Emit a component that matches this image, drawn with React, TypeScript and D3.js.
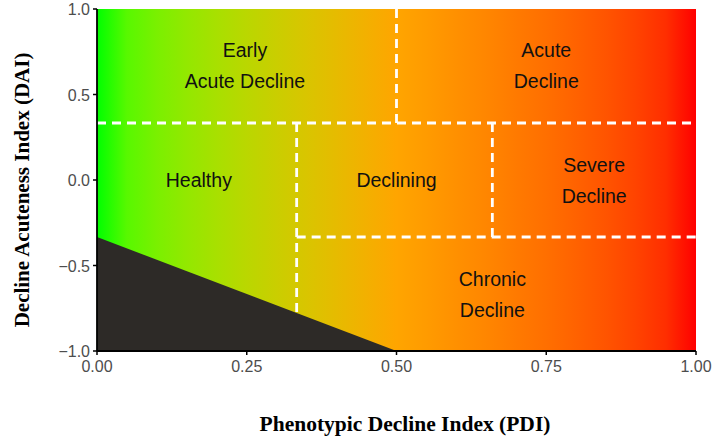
import React from "react";
import * as d3 from "d3";

// Axis domains and ticks
const xTicks = [0, 0.25, 0.5, 0.75, 1];
const yTicks = [-1, -0.5, 0, 0.5, 1];
const xTickLabels = ["0.00", "0.25", "0.50", "0.75", "1.00"];
const yTickLabels = ["\u22121.0", "\u22120.5", "0.0", "0.5", "1.0"];

// Colour ramp along PDI
const rampStops = [0, 0.5, 1];
const rampColors = ["#00ff00", "#ffa500", "#ff0000"];

// Region boundaries (PDI, DAI)
const third = 1 / 3;
const boundaries: { x1: number; y1: number; x2: number; y2: number }[] = [
  { x1: 0, y1: third, x2: 1, y2: third },
  { x1: 0.5, y1: third, x2: 0.5, y2: 1 },
  { x1: third, y1: -third, x2: 1, y2: -third },
  { x1: third, y1: third, x2: third, y2: -1 / 3 - (4 / 3) * third },
  { x1: 0.66, y1: third, x2: 0.66, y2: -third },
];

// Excluded corner: below the line from (0, -1/3) to (0.5, -1)
const excluded: [number, number][] = [
  [0, -third],
  [0.5, -1],
  [0, -1],
];

// Region labels
const regionLabels: { x: number; y: number; lines: string[] }[] = [
  { x: 0.247, y: 0.67, lines: ["Early", "Acute Decline"] },
  { x: 0.75, y: 0.67, lines: ["Acute", "Decline"] },
  { x: 0.17, y: 0.0, lines: ["Healthy"] },
  { x: 0.5, y: 0.0, lines: ["Declining"] },
  { x: 0.83, y: 0.0, lines: ["Severe", "Decline"] },
  { x: 0.66, y: -0.67, lines: ["Chronic", "Decline"] },
];

const W = 720;
const H = 447;
const left = 97;
const right = 696;
const top = 9;
const bottom = 351;

export default function App() {
  const x = d3.scaleLinear().domain([0, 1]).range([left, right]);
  const y = d3.scaleLinear().domain([-1, 1]).range([bottom, top]);
  const ramp = d3
    .scaleLinear<string>()
    .domain(rampStops)
    .range(rampColors)
    .interpolate(d3.interpolateLab);
  const gradStops = d3.range(0, 1.0001, 0.05);
  const area = d3
    .line<[number, number]>()
    .x((d) => x(d[0]))
    .y((d) => y(d[1]));
  const lineH = 31;

  return (
    <svg
      width={W}
      height={H}
      style={{ position: "absolute", left: 0, top: 0, background: "#fff" }}
    >
      <defs>
        <linearGradient id="pdiRamp" x1="0" x2="1" y1="0" y2="0">
          {gradStops.map((t) => (
            <stop key={t} offset={t} stopColor={ramp(t)} />
          ))}
        </linearGradient>
      </defs>
      <rect
        x={x(0)}
        y={y(1)}
        width={x(1) - x(0)}
        height={y(-1) - y(1)}
        fill="url(#pdiRamp)"
      />
      <path d={area(excluded) + "Z"} fill="#2d2a27" />
      {boundaries.map((b, i) => (
        <line
          key={i}
          x1={x(b.x1)}
          y1={y(b.y1)}
          x2={x(b.x2)}
          y2={y(b.y2)}
          stroke="#fff"
          strokeWidth={2.8}
          strokeDasharray="9 6"
        />
      ))}
      {regionLabels.map((r, i) => (
        <text
          key={i}
          x={x(r.x)}
          y={y(r.y)}
          textAnchor="middle"
          fontFamily="Liberation Sans, Arial, sans-serif"
          fontSize={19.5}
          fill="#111"
        >
          {r.lines.map((l, j) => (
            <tspan
              key={j}
              x={x(r.x)}
              dy={j === 0 ? ((-(r.lines.length - 1) * lineH) / 2 + 7) : lineH}
            >
              {l}
            </tspan>
          ))}
        </text>
      ))}
      {/* axes */}
      <line x1={x(0)} y1={y(-1)} x2={x(1)} y2={y(-1)} stroke="#000" strokeWidth={1.8} />
      <line x1={x(0)} y1={y(-1)} x2={x(0)} y2={y(1)} stroke="#000" strokeWidth={1.8} />
      {xTicks.map((t, i) => (
        <g key={i}>
          <line x1={x(t)} x2={x(t)} y1={y(-1)} y2={y(-1) + 4} stroke="#000" strokeWidth={1.5} />
          <text
            x={x(t)}
            y={y(-1) + 21}
            textAnchor="middle"
            fontFamily="Liberation Sans, Arial, sans-serif"
            fontSize={16}
            fill="#4d4d4d"
          >
            {xTickLabels[i]}
          </text>
        </g>
      ))}
      {yTicks.map((t, i) => (
        <g key={i}>
          <line x1={x(0) - 4} x2={x(0)} y1={y(t)} y2={y(t)} stroke="#000" strokeWidth={1.5} />
          <text
            x={x(0) - 7}
            y={y(t) + 6}
            textAnchor="end"
            fontFamily="Liberation Sans, Arial, sans-serif"
            fontSize={16}
            fill="#4d4d4d"
          >
            {yTickLabels[i]}
          </text>
        </g>
      ))}
      <text
        x={405}
        y={431}
        textAnchor="middle"
        fontFamily="Liberation Serif, Times New Roman, serif"
        fontWeight="bold"
        fontSize={21.5}
        fill="#000"
      >
        Phenotypic Decline Index (PDI)
      </text>
      <text
        transform={`translate(29, 190) rotate(-90)`}
        textAnchor="middle"
        fontFamily="Liberation Serif, Times New Roman, serif"
        fontWeight="bold"
        fontSize={21}
        fill="#000"
      >
        Decline Acuteness Index (DAI)
      </text>
    </svg>
  );
}
